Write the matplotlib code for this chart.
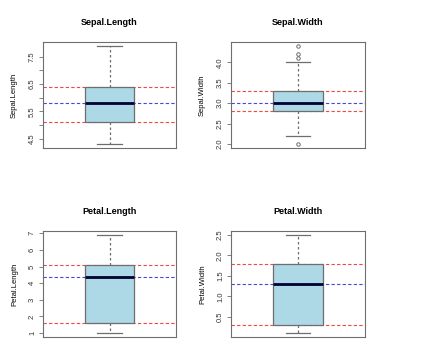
import numpy as np
import matplotlib.pyplot as plt

plt.rcParams['font.family'] = ['Liberation Sans', 'DejaVu Sans']

# box stats: min whisker, Q1, median, Q3, max whisker
names = ['Sepal.Length', 'Sepal.Width', 'Petal.Length', 'Petal.Width']
whislo = [4.3, 2.2, 1.0, 0.1]
q1 = [5.1, 2.8, 1.6, 0.3]
med = [5.8, 3.0, 4.35, 1.3]
q3 = [6.4, 3.3, 5.1, 1.8]
whishi = [7.9, 4.0, 6.9, 2.5]
fliers = [[], [2.0, 4.1, 4.2, 4.4], [], []]
data_min = [4.3, 2.0, 1.0, 0.1]
data_max = [7.9, 4.4, 6.9, 2.5]
ticks = [np.arange(4.5, 7.51, 0.5), np.arange(2.0, 4.01, 0.5),
         np.arange(1, 8), np.arange(0.5, 2.51, 0.5)]
tick_labels = [['4.5', '', '5.5', '', '6.5', '', '7.5'],
               ['2.0', '2.5', '3.0', '3.5', '4.0'],
               ['1', '2', '3', '4', '5', '6', '7'],
               ['0.5', '1.0', '1.5', '2.0', '2.5']]

W, H = 434, 358
fig = plt.figure(figsize=(W / 100, H / 100), dpi=100)
# axes boxes in pixels (left, top, right, bottom)
boxes = [(43, 42, 176, 148), (231, 42, 365, 148),
         (43, 231, 176, 337), (231, 231, 365, 337)]

grey = '#6e6e6e'
for i, name in enumerate(names):
    l, t, r, b = boxes[i]
    ax = fig.add_axes([l / W, 1 - b / H, (r - l) / W, (b - t) / H])
    stats = [dict(whislo=whislo[i], q1=q1[i], med=med[i], q3=q3[i],
                  whishi=whishi[i], fliers=fliers[i])]
    ax.bxp(stats, positions=[1], widths=0.37, patch_artist=True,
           boxprops=dict(facecolor='#add8e6', edgecolor=grey, linewidth=0.9),
           medianprops=dict(color='#000033', linewidth=2),
           whiskerprops=dict(color=grey, linestyle=(0, (2, 2)), linewidth=0.9),
           capprops=dict(color=grey, linewidth=0.9),
           capwidths=0.185,
           flierprops=dict(marker='o', markersize=2.5, markerfacecolor='none',
                           markeredgecolor=grey, markeredgewidth=0.7))
    # reference lines sit behind the box
    for y, c in [(q1[i], '#f04848'), (q3[i], '#f04848'), (med[i], '#4848d8')]:
        ax.axhline(y, color=c, linestyle=(0, (3, 2)), linewidth=0.8, zorder=1.5)
    pad = 0.04 * (data_max[i] - data_min[i])
    ax.set_ylim(data_min[i] - pad, data_max[i] + pad)
    ax.set_xlim(0.5, 1.5)
    ax.set_xticks([])
    ax.set_yticks(ticks[i])
    ax.set_yticklabels(tick_labels[i], rotation=90, va='center', fontsize=5.5,
                       color='#333333')
    ax.tick_params(axis='y', length=3, width=0.6, color=grey, pad=2)
    for s in ax.spines.values():
        s.set_color(grey)
        s.set_linewidth(0.8)
    ax.set_title(name, fontsize=6.5, fontweight='bold', pad=12)
    ax.set_ylabel(name, fontsize=5.5, labelpad=8)

fig.savefig('out.png', dpi=100)
